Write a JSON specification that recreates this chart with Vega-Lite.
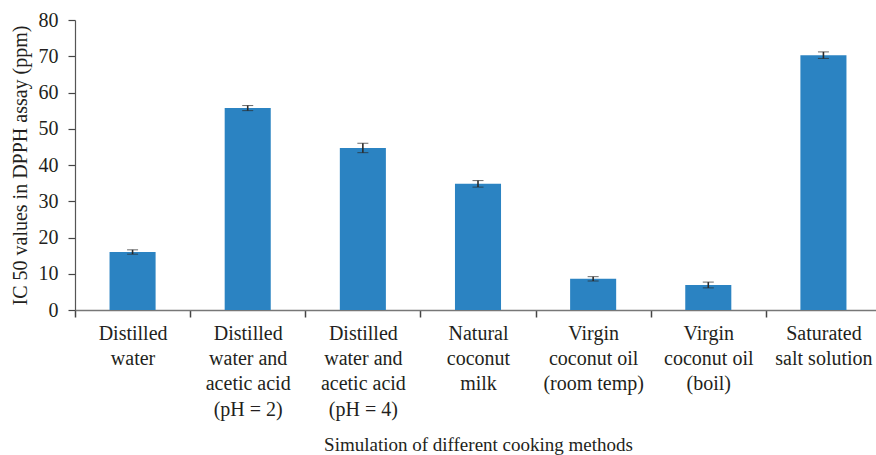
{
  "$schema": "https://vega.github.io/schema/vega-lite/v6.json",
  "autosize": "none",
  "padding": {"left": 75, "top": 20, "right": 0, "bottom": 145},
  "width": 806,
  "height": 290,
  "background": "white",
  "config": {"view": {"stroke": null}, "font": "Liberation Serif"},
  "data": {"values": [
    {"method": "Distilled|water", "ic50": 16.0, "err": 0.6},
    {"method": "Distilled|water and|acetic acid|(pH = 2)", "ic50": 55.7, "err": 0.7},
    {"method": "Distilled|water and|acetic acid|(pH = 4)", "ic50": 44.7, "err": 1.3},
    {"method": "Natural|coconut|milk", "ic50": 34.8, "err": 0.9},
    {"method": "Virgin|coconut oil|(room temp)", "ic50": 8.6, "err": 0.6},
    {"method": "Virgin|coconut oil|(boil)", "ic50": 6.9, "err": 0.8},
    {"method": "Saturated|salt solution", "ic50": 70.3, "err": 0.9}
  ]},
  "encoding": {
    "x": {
      "field": "method", "type": "nominal", "sort": null,
      "scale": {"paddingInner": 0, "paddingOuter": 0},
      "axis": {
        "title": "Simulation of different cooking methods",
        "titleFont": "Liberation Serif", "titleFontSize": 19, "titleFontWeight": "normal", "titleColor": "#231f20",
        "titlePadding": 16,
        "labelExpr": "split(datum.label, '|')",
        "labelAngle": 0, "labelFont": "Liberation Serif", "labelFontSize": 20, "labelColor": "#231f20",
        "labelLineHeight": 25.4, "labelPadding": 6,
        "tickBand": "extent", "tickColor": "#444", "tickSize": 7, "tickWidth": 1.5,
        "domainColor": "#777", "domainWidth": 1.5
      }
    },
    "y": {
      "field": "ic50", "type": "quantitative",
      "scale": {"domain": [0, 80]},
      "axis": {
        "title": "IC 50 values in DPPH assay (ppm)",
        "titleFont": "Liberation Serif", "titleFontSize": 20, "titleFontWeight": "normal", "titleColor": "#231f20",
        "titlePadding": 8,
        "values": [0, 10, 20, 30, 40, 50, 60, 70, 80],
        "labelFont": "Liberation Serif", "labelFontSize": 20, "labelColor": "#231f20", "labelPadding": 10,
        "grid": false, "tickColor": "#444", "tickSize": 7, "tickWidth": 1.2,
        "domainColor": "#555", "domainWidth": 1.2
      }
    }
  },
  "layer": [
    {
      "mark": {"type": "bar", "color": "#2b83c2", "width": {"band": 0.4}}
    },
    {
      "mark": {"type": "errorbar", "ticks": {"size": 11, "color": "#2a2a2a", "strokeWidth": 1.6}, "rule": {"color": "#2a2a2a", "strokeWidth": 1.6}},
      "encoding": {
        "yError": {"field": "err"}
      }
    }
  ]
}
